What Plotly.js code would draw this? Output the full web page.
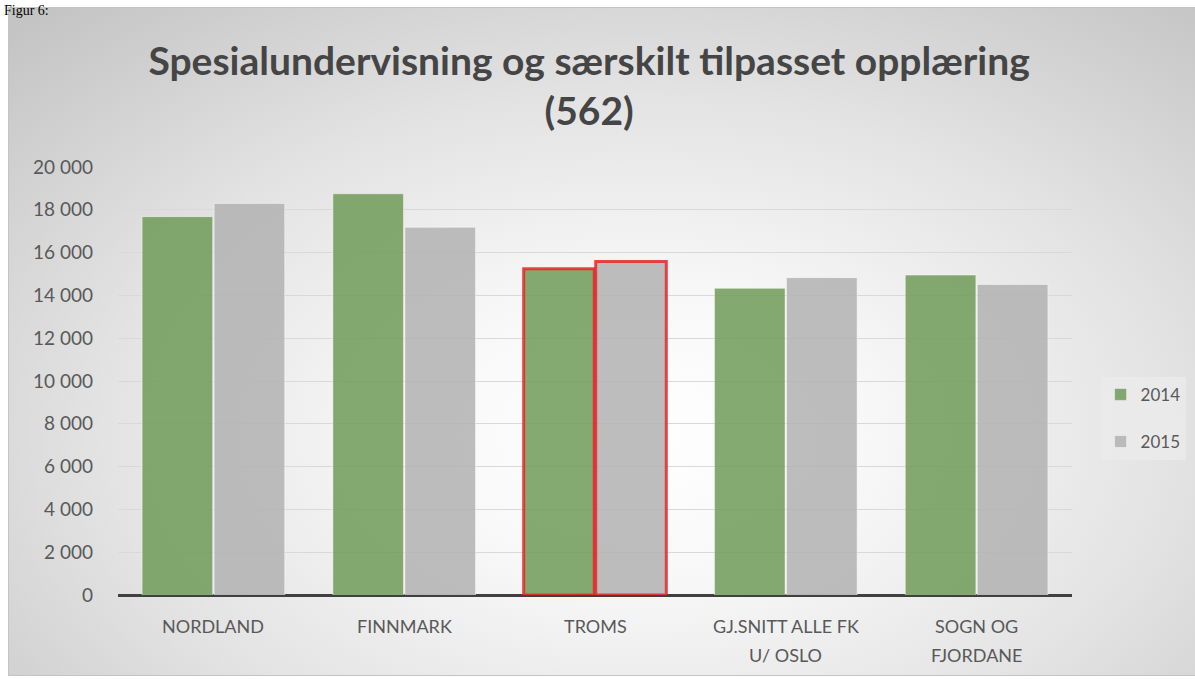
<!DOCTYPE html>
<html>
<head>
<meta charset="utf-8">
<script src="https://cdn.plot.ly/plotly-3.0.1.min.js"></script>
<style>
  html, body { margin: 0; padding: 0; background: #ffffff; }
  #wrap { position: relative; width: 1195px; height: 679px; overflow: hidden; }
  #frame { position: absolute; left: 8px; top: 7px; width: 1190px; height: 669px;
    border: 1px solid #c4c4c4; box-sizing: border-box;
    background: radial-gradient(ellipse 75% 85% at 53% 64%, #ffffff 0%, #f8f8f8 25%, #e3e3e3 60%, #c4c4c4 100%); }
  #fig { position: absolute; left: 0; top: 0; width: 1195px; height: 679px; }
</style>
</head>
<body>
<div id="wrap">
  <div id="frame"></div>
  <div id="fig"></div>
</div>
<script>
const categories = ['NORDLAND', 'FINNMARK', 'TROMS', 'GJ.SNITT ALLE FK<br>U/ OSLO', 'SOGN OG<br>FJORDANE'];
const values2014 = [17680, 18750, 15240, 14330, 14950];
const values2015 = [18300, 17180, 15580, 14830, 14510];
const seriesNames = ['2014', '2015'];
const yTicks = [0, 2000, 4000, 6000, 8000, 10000, 12000, 14000, 16000, 18000, 20000];
const highlighted = 'TROMS';

const lineColors = categories.map(c => c === highlighted ? 'rgba(228,40,40,0.85)' : 'rgba(255,255,255,0.45)');
const lineWidths = categories.map(c => c === highlighted ? 3 : 1);

const traces = [
  { type: 'bar', name: seriesNames[0], x: categories, y: values2014, legendgroup: 'a',
    marker: { color: 'rgba(112,155,88,0.85)', line: { color: lineColors, width: lineWidths } },
    hoverinfo: 'skip' },
  { type: 'bar', name: seriesNames[1], x: categories, y: values2015, legendgroup: 'b',
    marker: { color: 'rgba(178,178,178,0.85)', line: { color: lineColors, width: lineWidths } },
    hoverinfo: 'skip' }
];

const fontFam = 'Lato, "Open Sans", sans-serif';

// category labels drawn as annotations on the category axis so the line spacing matches
const labelAnnotations = [];
categories.forEach(c => {
  c.split('<br>').forEach((line, i) => {
    labelAnnotations.push({ text: line, xref: 'x', yref: 'paper', x: c, y: 0,
      xanchor: 'center', yanchor: 'middle', yshift: -(31 + i * 29), showarrow: false,
      font: { family: fontFam, size: 18, color: '#595959' } });
  });
});

const layout = {
  width: 1195, height: 679,
  paper_bgcolor: 'rgba(0,0,0,0)', plot_bgcolor: 'rgba(0,0,0,0)',
  margin: { l: 118, r: 123, t: 167, b: 84, pad: 0 },
  separators: ', ',
  font: { family: fontFam, color: '#595959', size: 17 },
  title: { text: '<b>Spesialundervisning og særskilt tilpasset opplæring<br>(562)</b>',
    x: 0.493, xanchor: 'center', y: 0.89, yanchor: 'top', yref: 'container',
    font: { family: fontFam, size: 39, color: '#454545' } },
  barmode: 'group', bargap: 0.245, bargroupgap: 0.02,
  xaxis: { type: 'category', showticklabels: false, showgrid: false,
    zeroline: false, showline: false, ticks: '' },
  yaxis: { range: [0, 20000], tickvals: yTicks, tickformat: ',d', showgrid: true,
    gridcolor: '#d9d9d9', gridwidth: 1, zeroline: true, zerolinecolor: '#404040', zerolinewidth: 3,
    showline: false, ticks: '', tickfont: { size: 19, color: '#595959' }, ticklabelstandoff: 24 },
  legend: { xref: 'container', yref: 'container', x: 0.921, y: 0.445, xanchor: 'left', yanchor: 'top',
    bgcolor: 'rgba(235,235,235,0.8)', borderwidth: 0, tracegroupgap: 22, traceorder: 'grouped',
    font: { size: 17, color: '#595959' }, itemwidth: 30 },
  annotations: labelAnnotations.concat([
    { text: 'Figur 6:', xref: 'paper', yref: 'paper', x: -116 / 954, y: 1 + 166 / 428,
      xanchor: 'left', yanchor: 'top', showarrow: false,
      font: { family: '"Liberation Serif", serif', size: 14, color: '#000' } }
  ])
};

Plotly.newPlot('fig', traces, layout, { displayModeBar: false, staticPlot: true });
</script>
</body>
</html>
